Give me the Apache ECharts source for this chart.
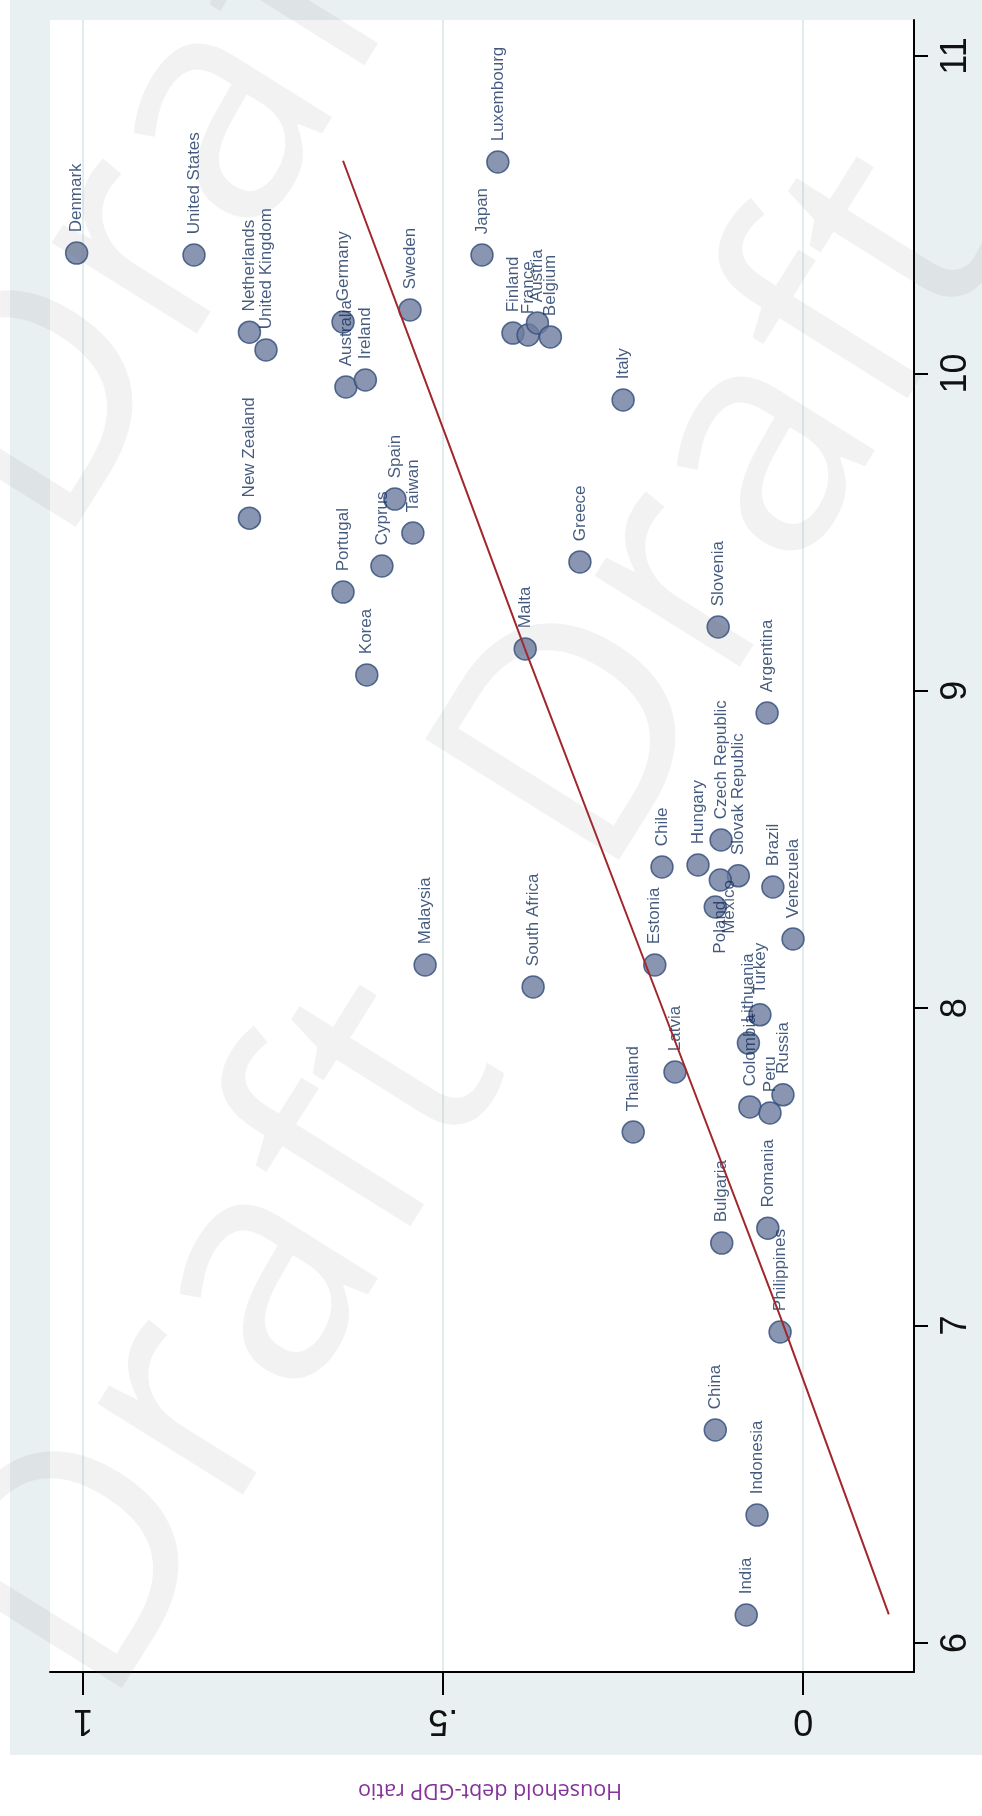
<!DOCTYPE html>
<html>
<head>
<meta charset="utf-8">
<script src="https://cdn.jsdelivr.net/npm/echarts@6/dist/echarts.min.js"></script>
<style>
  html, body { margin: 0; padding: 0; background: #ffffff; }
  #chart { width: 982px; height: 1816px; }
</style>
</head>
<body>
<div id="chart"></div>
<script>
// Household debt-to-GDP ratio against log GDP per capita, by country.
const countries = [
  'Denmark', 'United States', 'Netherlands', 'United Kingdom', 'Germany', 'Australia',
  'Ireland', 'Sweden', 'Japan', 'Luxembourg', 'Finland', 'France', 'Austria', 'Belgium',
  'Italy', 'New Zealand', 'Portugal', 'Cyprus', 'Spain', 'Taiwan', 'Korea', 'Greece',
  'Malta', 'Slovenia', 'Argentina', 'Chile', 'Hungary', 'Czech Republic', 'Slovak Republic',
  'Brazil', 'Poland', 'Mexico', 'Venezuela', 'Malaysia', 'South Africa', 'Estonia', 'Turkey',
  'Lithuania', 'Latvia', 'Colombia', 'Russia', 'Peru', 'Thailand', 'Bulgaria', 'Romania',
  'Philippines', 'China', 'Indonesia', 'India'
];
const debtRatio = [
  1.009, 0.846, 0.769, 0.746, 0.639, 0.635,
  0.608, 0.546, 0.446, 0.424, 0.403, 0.382, 0.369, 0.351,
  0.250, 0.769, 0.639, 0.585, 0.567, 0.542, 0.606, 0.310,
  0.386, 0.118, 0.050, 0.196, 0.146, 0.114, 0.090,
  0.042, 0.115, 0.122, 0.014, 0.525, 0.375, 0.206, 0.060,
  0.076, 0.178, 0.074, 0.028, 0.046, 0.236, 0.113, 0.049,
  0.032, 0.122, 0.064, 0.079
];
const logGdp = [
  10.379, 10.373, 10.130, 10.074, 10.162, 9.957,
  9.979, 10.200, 10.373, 10.666, 10.127, 10.121, 10.159, 10.115,
  9.916, 9.544, 9.311, 9.393, 9.604, 9.497, 9.050, 9.406,
  9.132, 9.201, 8.930, 8.445, 8.451, 8.530, 8.417,
  8.382, 8.404, 8.319, 8.218, 8.136, 8.067, 8.136, 7.979,
  7.890, 7.799, 7.689, 7.727, 7.670, 7.610, 7.260, 7.307,
  6.980, 6.671, 6.403, 6.088
];

// Fitted line, read along its length
const fitGdp  = [6.09, 7.03, 8.14, 9.13, 9.79, 10.67];
const fitDebt = [-0.119, 0.032, 0.219, 0.386, 0.494, 0.639];

const debtTicks = [0, 0.5, 1];
const debtTickLabels = ['0', '.5', '1'];
const gdpTicks = [6, 7, 8, 9, 10, 11];

const axisTitle = 'Household debt-GDP ratio';
const watermarkText = 'Draft';

// Labels that sit on another side of their marker
const labelSide = { Poland: 'below', Mexico: 'right' };

const NAVY = '#15315d';
const baseLabel = {
  show: true, formatter: '{b}', position: 'top', distance: 9, rotate: 90,
  align: 'left', verticalAlign: 'middle',
  color: NAVY, fontSize: 17, fontFamily: '"Liberation Sans", Arial, sans-serif'
};

const scatterData = countries.map((name, i) => {
  const item = { name, value: [debtRatio[i], logGdp[i]] };
  if (labelSide[name] === 'below') {
    item.label = { position: 'bottom', align: 'right', verticalAlign: 'middle', distance: 9, offset: [-8, 0] };
  } else if (labelSide[name] === 'right') {
    item.label = { position: 'right', align: 'center', verticalAlign: 'middle', distance: 2 };
  }
  return item;
});

const fitData = fitGdp.map((g, i) => [fitDebt[i], g]);

const watermarkCenters = [[184, 182], [727, 515], [230, 1343]];
const watermarks = watermarkCenters.map(([x, y]) => ({
  type: 'text', x, y, rotation: 58 * Math.PI / 180, silent: true, z: 100,
  style: {
    text: watermarkText, font: '320px "Open Sans", "Noto Sans", sans-serif',
    fill: 'rgba(120,110,100,0.085)', align: 'center', verticalAlign: 'middle'
  }
}));

const chart = echarts.init(document.getElementById('chart'), null, { renderer: 'canvas' });
chart.setOption({
  backgroundColor: '#e8f0f2',
  animation: false,
  grid: {
    left: 50, right: 68, top: 20, bottom: 144,
    show: true, backgroundColor: '#ffffff', borderWidth: 0,
    outerBoundsMode: 'none'
  },
  xAxis: {
    type: 'value', position: 'bottom', inverse: true,
    min: -0.154, max: 1.046,
    axisLine: { show: true, onZero: false, lineStyle: { color: '#000', width: 2 } },
    axisTick: { show: true, length: 23, lineStyle: { color: '#000', width: 2 }, customValues: debtTicks },
    axisLabel: {
      customValues: debtTicks, rotate: 180, margin: 30,
      formatter: v => debtTickLabels[debtTicks.indexOf(v)] ?? '',
      color: '#111', fontSize: 36, fontFamily: '"Liberation Sans", Arial, sans-serif'
    },
    splitLine: { show: true, lineStyle: { color: '#d9e6ea', width: 1.5 } }
  },
  yAxis: {
    type: 'value', position: 'right',
    min: 5.9086, max: 11.1134,
    axisLine: { show: true, onZero: false, lineStyle: { color: '#000', width: 2 } },
    axisTick: { show: true, length: 14, lineStyle: { color: '#000', width: 2 }, customValues: gdpTicks },
    axisLabel: {
      customValues: gdpTicks, rotate: 90, margin: 24,
      color: '#111', fontSize: 36, fontFamily: '"Liberation Sans", Arial, sans-serif'
    },
    splitLine: { show: false }
  },
  series: [
    {
      type: 'scatter', z: 2, symbol: 'circle', symbolSize: 22,
      itemStyle: { color: '#6d7a9e', borderColor: '#324e7a', borderWidth: 1.5 },
      label: baseLabel,
      labelLayout: { hideOverlap: false },
      data: scatterData
    },
    {
      type: 'line', z: 3, showSymbol: false, symbol: 'none', smooth: false,
      lineStyle: { color: '#a2262c', width: 2 },
      data: fitData
    }
  ],
  graphic: [
    { type: 'rect', silent: true, z: 50, shape: { x: 0, y: 0, width: 10, height: 1816 }, style: { fill: '#ffffff' } },
    { type: 'rect', silent: true, z: 50, shape: { x: 0, y: 1755, width: 982, height: 61 }, style: { fill: '#ffffff' } },
    {
      type: 'text', x: 490, y: 1790, rotation: Math.PI, silent: true, z: 60,
      style: {
        text: axisTitle, fill: '#85339b', align: 'center', verticalAlign: 'middle',
        font: '21.5px "Open Sans", "Noto Sans", sans-serif'
      }
    },
    ...watermarks
  ]
});
</script>
</body>
</html>
